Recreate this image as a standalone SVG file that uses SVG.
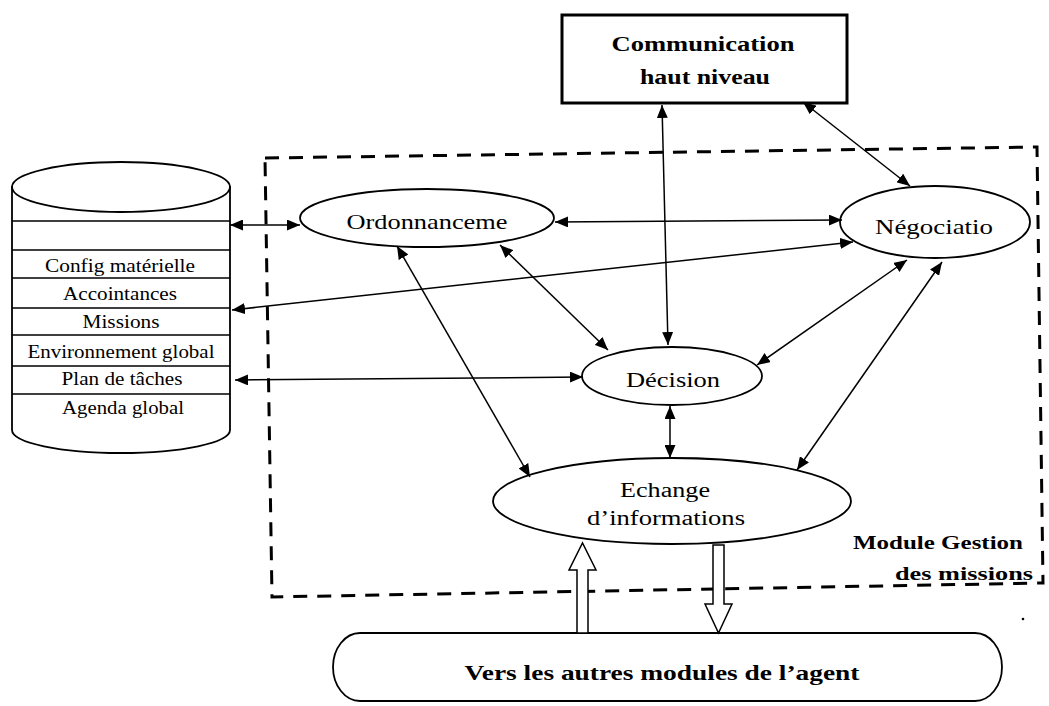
<svg xmlns="http://www.w3.org/2000/svg" width="1049" height="706" viewBox="0 0 1049 706">
  <style>
    .shape { fill: #fff; stroke: #000; stroke-width: 1.8; }
    .row { fill: none; stroke: #000; stroke-width: 1.5; }
    .lbl { font-family: "Liberation Serif", "Times New Roman", serif; fill: #000; text-anchor: middle; }
    .bold { font-weight: bold; }
    .edge { fill: none; stroke: #000; stroke-width: 1.5; marker-start: url(#head); marker-end: url(#head); }
    .hollow { fill: #fff; stroke: #000; stroke-width: 1.5; stroke-linejoin: miter; }
  </style>
  <defs>
    <marker id="head" markerUnits="userSpaceOnUse" markerWidth="13" markerHeight="11" refX="13" refY="5.5" orient="auto-start-reverse">
      <path d="M0,0 L13,5.5 L0,11 Z" fill="#000"/>
    </marker>
  </defs>

  <rect width="1049" height="706" fill="#fff"/>

  <!-- module boundary -->
  <g id="module-frame">
    <polygon points="265,158 1037,147 1043,583 272,597" fill="none" stroke="#000" stroke-width="3" stroke-dasharray="14,10"/>
    <text class="lbl bold" x="938" y="549" font-size="19" textLength="170" lengthAdjust="spacingAndGlyphs">Module Gestion</text>
    <text class="lbl bold" x="964" y="580" font-size="19" textLength="138" lengthAdjust="spacingAndGlyphs">des missions</text>
    <circle cx="1023" cy="619" r="1.3" fill="#000"/>
  </g>

  <!-- knowledge store -->
  <g id="store">
    <path class="shape" d="M12,186 L12,430 A109,23 0 0 0 230,430 L230,186"/>
    <ellipse class="shape" cx="121" cy="187" rx="109" ry="25"/>
    <path class="row" d="M12,221 H230 M12,250 H230 M12,278 H230 M12,308 H230 M12,335 H230 M12,366 H230 M12,394 H230"/>
    <text class="lbl" x="120" y="272" font-size="18" textLength="150" lengthAdjust="spacingAndGlyphs">Config matérielle</text>
    <text class="lbl" x="120" y="300" font-size="18" textLength="114" lengthAdjust="spacingAndGlyphs">Accointances</text>
    <text class="lbl" x="121" y="328" font-size="18" textLength="77" lengthAdjust="spacingAndGlyphs">Missions</text>
    <text class="lbl" x="121" y="358" font-size="18" textLength="187" lengthAdjust="spacingAndGlyphs">Environnement global</text>
    <text class="lbl" x="122" y="385" font-size="18" textLength="121" lengthAdjust="spacingAndGlyphs">Plan de tâches</text>
    <text class="lbl" x="123" y="414" font-size="18" textLength="122" lengthAdjust="spacingAndGlyphs">Agenda global</text>
  </g>

  <!-- high-level communication -->
  <g id="communication">
    <rect x="562" y="15" width="285" height="88" fill="#fff" stroke="#000" stroke-width="3"/>
    <text class="lbl bold" x="703" y="51" font-size="20" textLength="183" lengthAdjust="spacingAndGlyphs">Communication</text>
    <text class="lbl bold" x="705" y="84" font-size="20" textLength="130" lengthAdjust="spacingAndGlyphs">haut niveau</text>
  </g>

  <g id="ordonnancement">
    <ellipse class="shape" cx="427" cy="218" rx="127" ry="29"/>
    <text class="lbl" x="427" y="229" font-size="21" textLength="161" lengthAdjust="spacingAndGlyphs">Ordonnanceme</text>
  </g>

  <g id="negociation">
    <ellipse class="shape" cx="935" cy="222" rx="95" ry="36"/>
    <text class="lbl" x="934" y="234" font-size="21" textLength="118" lengthAdjust="spacingAndGlyphs">Négociatio</text>
  </g>

  <g id="decision">
    <ellipse class="shape" cx="672" cy="376" rx="90" ry="29"/>
    <text class="lbl" x="673" y="387" font-size="20" textLength="94" lengthAdjust="spacingAndGlyphs">Décision</text>
  </g>

  <g id="echange">
    <ellipse class="shape" cx="672" cy="501" rx="179" ry="43"/>
    <text class="lbl" x="665" y="497" font-size="20" textLength="90" lengthAdjust="spacingAndGlyphs">Echange</text>
    <text class="lbl" x="666" y="525" font-size="20" textLength="158" lengthAdjust="spacingAndGlyphs">d’informations</text>
  </g>

  <g id="autres-modules">
    <path class="shape" d="M360,633 L975,633 A27,34 0 0 1 975,701 L360,701 A27,34 0 0 1 360,633 Z"/>
    <text class="lbl bold" x="662" y="680" font-size="21" textLength="395" lengthAdjust="spacingAndGlyphs">Vers les autres modules de l’agent</text>
  </g>

  <!-- connectors -->
  <g id="connectors">
    <line class="edge" x1="230" y1="225" x2="300" y2="225"/>
    <line class="edge" x1="555" y1="222" x2="842" y2="220"/>
    <line class="edge" x1="232" y1="310" x2="853" y2="242"/>
    <line class="edge" x1="235" y1="380" x2="583" y2="377"/>
    <line class="edge" x1="500" y1="245" x2="608" y2="350"/>
    <line class="edge" x1="397" y1="246" x2="530" y2="477"/>
    <line class="edge" x1="662" y1="105" x2="668" y2="345"/>
    <line class="edge" x1="803" y1="102" x2="910" y2="186"/>
    <line class="edge" x1="907" y1="260" x2="757" y2="365"/>
    <line class="edge" x1="942" y1="262" x2="797" y2="470"/>
    <line class="edge" x1="670" y1="406" x2="670" y2="458"/>
    <polygon class="hollow" points="577,633 577,570 569,570 582.5,543 596,570 588,570 588,633"/>
    <polygon class="hollow" points="713,545 713,604 705,604 718.5,633 732,604 724,604 724,545"/>
  </g>
</svg>
